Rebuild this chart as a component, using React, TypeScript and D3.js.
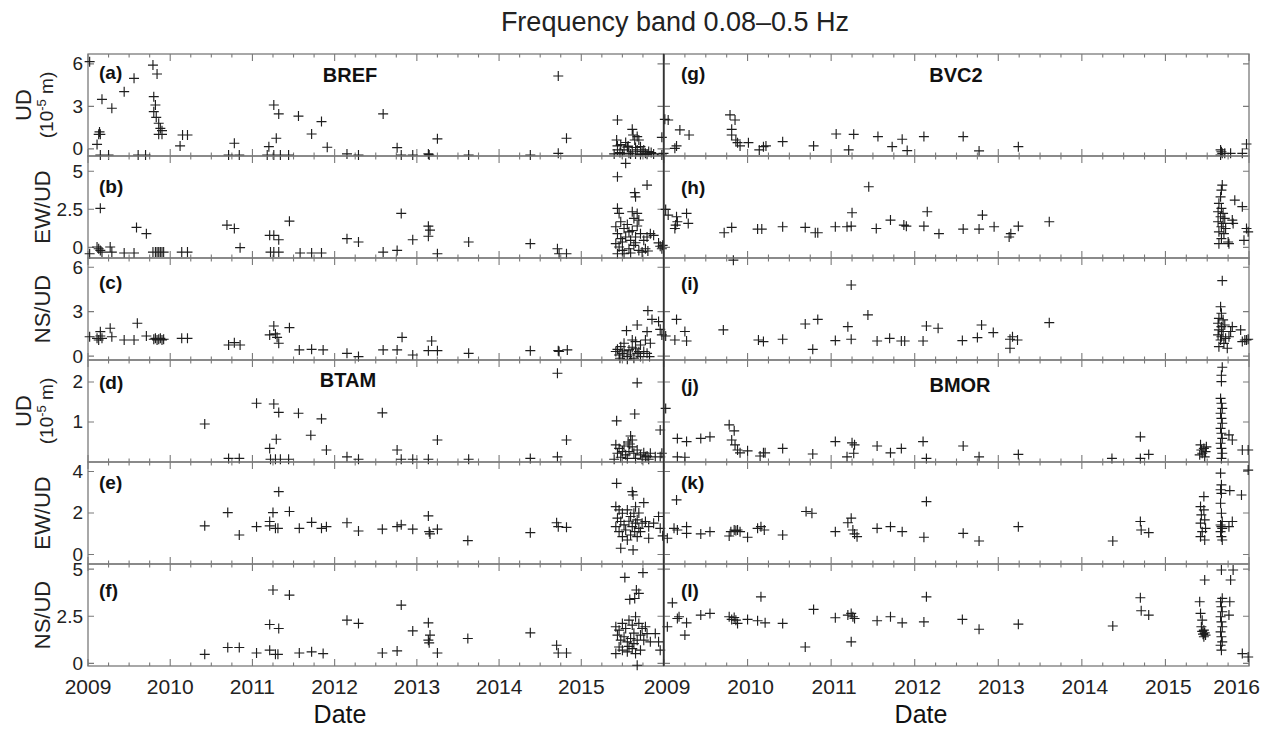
import React from 'react';
import * as d3 from 'd3';

type Pt = [number, number];

const title = 'Frequency band 0.08–0.5 Hz';
const xLabel = 'Date';
const yearTicksLeft = [2009, 2010, 2011, 2012, 2013, 2014, 2015];
const yearTicksRight = [2009, 2010, 2011, 2012, 2013, 2014, 2015, 2016];
const rowYLabels = ['UD', 'EW/UD', 'NS/UD', 'UD', 'EW/UD', 'NS/UD'];
const rowHasUnit = [true, false, false, true, false, false];
const yDomains: [number, number][] = [
  [-0.5, 6.7],
  [-0.7, 6.0],
  [-0.26, 6.62],
  [0, 2.55],
  [-0.46, 4.46],
  [-0.14, 5.27],
];
const yTickValues: number[][] = [
  [0, 3, 6],
  [0, 2.5, 5],
  [0, 3, 6],
  [1, 2],
  [0, 2, 4],
  [0, 2.5, 5],
];
const lettersLeft = ['(a)', '(b)', '(c)', '(d)', '(e)', '(f)'];
const lettersRight = ['(g)', '(h)', '(i)', '(j)', '(k)', '(l)'];
const letterOffsetLeft = [18, 30, 24, 22, 20, 26];
const letterOffsetRight = [19, 31, 25, 25, 20, 26];
const stationsLeft = ['BREF', 'BTAM'];
const stationsRight = ['BVC2', 'BMOR'];

// ---- data: [decimal year, value] ----
const panelA: Pt[] = [
  [2009.02, 6.16], [2009.11, 0.32], [2009.13, 1.03], [2009.15, 1.03], [2009.14, 1.2],
  [2009.17, 3.5], [2009.29, 2.87], [2009.15, -0.43], [2009.25, -0.43], [2009.44, 4.04],
  [2009.56, 4.98], [2009.61, -0.43], [2009.7, -0.43], [2009.79, 5.92], [2009.84, 5.29],
  [2009.8, 3.69], [2009.82, 3.1], [2009.8, 2.63], [2009.83, 2.23], [2009.86, 1.81],
  [2009.88, 1.45], [2009.9, 1.29], [2009.86, 1.03], [2009.9, 1.03], [2010.12, 0.21],
  [2010.15, 0.98], [2010.21, 0.98], [2010.71, -0.43], [2010.78, 0.4], [2010.84, -0.43],
  [2011.2, 0.16], [2011.26, 3.1], [2011.32, 2.47], [2011.29, 0.75], [2011.18, -0.43],
  [2011.26, -0.43], [2011.34, -0.43], [2011.44, -0.43], [2011.56, 2.32], [2011.72, 1.05],
  [2011.84, 1.93], [2011.91, 0.12], [2012.15, -0.35], [2012.29, -0.43], [2012.59, 2.47],
  [2012.76, 0.09], [2012.81, -0.43], [2012.95, -0.43], [2013.15, -0.43], [2013.14, -0.35],
  [2013.25, 0.71], [2013.63, -0.43], [2014.38, -0.43], [2014.72, 5.15], [2014.72, -0.31],
  [2014.82, 0.75],
  [2015.44, 2.04], [2015.43, 0.63], [2015.44, 0.21], [2015.44, -0.07], [2015.47, -0.26],
  [2015.52, -0.07], [2015.56, 0.12], [2015.58, -0.31], [2015.62, 1.38], [2015.63, 0.98],
  [2015.65, 0.63], [2015.68, 0.87], [2015.7, 0.63], [2015.72, 0.16], [2015.74, -0.19],
  [2015.76, -0.07], [2015.78, -0.31], [2015.82, -0.19], [2015.85, -0.26], [2015.4, -0.35],
  [2015.5, -0.35], [2015.6, -0.35], [2015.66, -0.35], [2015.68, -0.07], [2015.48, 0.3],
  [2015.54, 0.45], [2015.57, 0.2], [2015.66, 0.1], [2015.88, -0.35], [2015.8, -0.38],
  [2015.72, -0.4], [2015.62, -0.2], [2015.98, 0.82], [2016.0, -0.31], [2015.98, -0.43],
];

const panelB: Pt[] = [
  [2009.02, -0.42], [2009.11, 0.02], [2009.13, -0.09], [2009.15, -0.2], [2009.17, -0.31],
  [2009.15, 2.56], [2009.27, 0.02], [2009.29, -0.31], [2009.44, -0.37], [2009.56, -0.37],
  [2009.59, 1.31], [2009.71, 0.9], [2009.79, -0.31], [2009.82, -0.31], [2009.84, -0.31],
  [2009.86, -0.31], [2009.88, -0.31], [2009.9, -0.31], [2009.92, -0.31], [2010.14, -0.31],
  [2010.21, -0.31], [2010.69, 1.46], [2010.78, 1.24], [2010.85, -0.02], [2011.21, 0.79],
  [2011.26, 0.79], [2011.32, 0.5], [2011.22, -0.31], [2011.26, -0.31], [2011.32, -0.31],
  [2011.45, 1.72], [2011.58, -0.37], [2011.72, -0.37], [2011.84, -0.37], [2012.15, 0.57],
  [2012.29, 0.35], [2012.59, -0.31], [2012.76, -0.2], [2012.81, 2.23], [2012.95, 0.5],
  [2013.14, 1.39], [2013.16, 1.13], [2013.14, 0.73], [2013.25, -0.42], [2013.63, 0.35],
  [2014.38, 0.24], [2014.71, -0.09], [2014.73, -0.42], [2014.82, -0.42],
  [2015.44, 4.64], [2015.54, 5.52], [2015.8, 4.09], [2015.65, 3.59], [2015.66, 3.32],
  [2015.44, 2.56], [2015.46, 2.23], [2015.62, 2.34], [2015.68, 2.23], [2015.64, 1.9],
  [2015.7, 1.79], [2015.48, 1.68], [2015.42, 1.35], [2015.52, 1.24], [2015.58, 1.02],
  [2015.44, 0.9], [2015.48, 0.57], [2015.54, 0.68], [2015.6, 0.46], [2015.66, 0.68],
  [2015.72, 0.9], [2015.76, 0.46], [2015.8, 0.68], [2015.84, 0.9], [2015.88, 0.79],
  [2015.42, 0.24], [2015.46, 0.02], [2015.5, -0.2], [2015.58, -0.09], [2015.64, 0.13],
  [2015.7, -0.2], [2015.78, -0.09], [2015.44, -0.42], [2015.52, -0.42], [2015.6, -0.37],
  [2015.74, -0.31], [2015.81, -0.24], [2015.56, 1.5], [2015.62, 1.1], [2015.68, 1.4],
  [2015.5, 0.35], [2015.66, 0.3], [2015.94, 0.29], [2015.96, 0.07], [2015.98, -0.09],
  [2015.99, 0.13],
];

const panelC: Pt[] = [
  [2009.02, 1.31], [2009.11, 1.2], [2009.13, 1.09], [2009.15, 1.36], [2009.17, 1.2],
  [2009.15, 1.65], [2009.27, 1.88], [2009.29, 1.31], [2009.44, 1.09], [2009.56, 1.09],
  [2009.6, 2.22], [2009.71, 1.36], [2009.8, 1.14], [2009.82, 1.2], [2009.84, 1.09],
  [2009.86, 1.14], [2009.88, 1.2], [2009.9, 1.09], [2009.92, 1.14], [2010.14, 1.2],
  [2010.21, 1.2], [2010.71, 0.75], [2010.78, 0.91], [2010.85, 0.75], [2011.21, 1.43],
  [2011.26, 2.03], [2011.3, 1.27], [2011.32, 0.87], [2011.28, 1.5], [2011.45, 1.92],
  [2011.57, 0.42], [2011.72, 0.46], [2011.86, 0.42], [2012.15, 0.19], [2012.29, -0.03],
  [2012.59, 0.42], [2012.76, 0.42], [2012.82, 1.27], [2012.95, 0.08], [2013.14, 0.37],
  [2013.18, 1.02], [2013.25, 0.37], [2013.63, 0.19], [2014.38, 0.37], [2014.72, 0.37],
  [2014.73, 0.31], [2014.83, 0.42],
  [2015.81, 3.07], [2015.86, 2.48], [2015.94, 2.33], [2015.96, 1.81], [2015.98, 1.43],
  [2015.68, 2.1], [2015.55, 1.72], [2015.8, 1.65], [2015.84, 0.87], [2015.78, 1.09],
  [2015.72, 0.75], [2015.66, 0.98], [2015.62, 1.09], [2015.52, 0.87], [2015.48, 0.64],
  [2015.44, 0.46], [2015.42, 0.31], [2015.46, 0.08], [2015.5, 0.19], [2015.56, -0.03],
  [2015.58, 0.42], [2015.6, 0.08], [2015.64, -0.14], [2015.68, 0.19], [2015.72, -0.03],
  [2015.76, 0.31], [2015.8, 0.19], [2015.83, -0.03], [2015.47, -0.14], [2015.56, -0.21],
  [2015.66, 0.5], [2015.52, 0.35], [2015.62, 0.6], [2015.7, 0.3],
];

const panelD: Pt[] = [
  [2010.42, 0.95], [2010.71, 0.09], [2010.84, 0.09], [2011.05, 1.47], [2011.21, 0.34],
  [2011.26, 1.45], [2011.32, 1.24], [2011.29, 0.57], [2011.22, 0.07], [2011.28, 0.07],
  [2011.34, 0.07], [2011.44, 0.07], [2011.56, 1.22], [2011.71, 0.67], [2011.84, 1.08],
  [2011.9, 0.3], [2012.15, 0.13], [2012.29, 0.07], [2012.58, 1.23], [2012.76, 0.3],
  [2012.81, 0.07], [2012.95, 0.07], [2013.14, 0.07], [2013.25, 0.55], [2013.63, 0.07],
  [2014.38, 0.09], [2014.71, 2.22], [2014.71, 0.13], [2014.82, 0.55],
  [2015.68, 1.98], [2015.43, 1.03], [2015.65, 1.2], [2015.6, 0.65], [2015.62, 0.55],
  [2015.59, 0.45], [2015.62, 0.38], [2015.42, 0.43], [2015.46, 0.34], [2015.44, 0.22],
  [2015.5, 0.26], [2015.54, 0.18], [2015.58, 0.26], [2015.64, 0.22], [2015.68, 0.3],
  [2015.72, 0.18], [2015.76, 0.23], [2015.8, 0.15], [2015.84, 0.22], [2015.78, 0.13],
  [2015.48, 0.12], [2015.56, 0.09], [2015.66, 0.09], [2015.74, 0.07], [2015.82, 0.07],
  [2015.4, 0.07], [2015.9, 0.13], [2015.96, 0.13], [2015.98, 0.22], [2015.96, 0.8],
  [2015.52, 0.4], [2015.57, 0.5],
];

const panelE: Pt[] = [
  [2010.42, 1.38], [2010.7, 2.02], [2010.84, 0.94], [2011.05, 1.34], [2011.21, 1.59],
  [2011.21, 1.38], [2011.25, 2.02], [2011.28, 1.26], [2011.31, 1.26], [2011.32, 3.03],
  [2011.45, 2.07], [2011.57, 1.26], [2011.72, 1.55], [2011.84, 1.26], [2011.9, 1.34],
  [2012.15, 1.53], [2012.29, 1.13], [2012.58, 1.22], [2012.76, 1.34], [2012.81, 1.43],
  [2012.95, 1.22], [2013.14, 1.86], [2013.15, 1.1], [2013.16, 0.99], [2013.25, 1.22],
  [2013.62, 0.67], [2014.38, 1.05], [2014.7, 1.53], [2014.72, 1.34], [2014.82, 1.31],
  [2015.43, 3.43], [2015.62, 3.03], [2015.63, 2.87], [2015.76, 2.5], [2015.42, 2.31],
  [2015.46, 2.15], [2015.5, 1.99], [2015.44, 1.75], [2015.48, 1.59], [2015.52, 1.43],
  [2015.42, 1.34], [2015.46, 1.1], [2015.5, 0.86], [2015.56, 2.15], [2015.6, 1.83],
  [2015.64, 1.99], [2015.68, 1.67], [2015.66, 1.51], [2015.62, 1.34], [2015.7, 1.26],
  [2015.74, 1.51], [2015.78, 1.59], [2015.65, 1.1], [2015.6, 0.94], [2015.68, 0.86],
  [2015.82, 0.78], [2015.48, 0.3], [2015.63, 0.22], [2015.56, 0.7], [2015.72, 1.1],
  [2015.82, 1.34], [2015.54, 1.18], [2015.88, 1.51], [2015.58, 1.6], [2015.7, 2.0],
  [2015.66, 2.3], [2015.94, 1.83], [2015.96, 1.26], [2015.99, 0.9],
];

const panelF: Pt[] = [
  [2010.42, 0.48], [2010.7, 0.84], [2010.84, 0.84], [2011.05, 0.55], [2011.21, 0.7],
  [2011.25, 3.89], [2011.21, 2.06], [2011.32, 1.85], [2011.28, 0.48], [2011.31, 0.48],
  [2011.45, 3.62], [2011.57, 0.55], [2011.72, 0.61], [2011.86, 0.52], [2012.15, 2.29],
  [2012.29, 2.12], [2012.58, 0.55], [2012.76, 0.66], [2012.81, 3.09], [2012.95, 1.72],
  [2013.14, 2.15], [2013.16, 1.5], [2013.14, 1.23], [2013.15, 1.09], [2013.25, 0.55],
  [2013.62, 1.32], [2014.38, 1.62], [2014.7, 0.96], [2014.72, 0.55], [2014.82, 0.55],
  [2015.53, 4.56], [2015.75, 4.81], [2015.67, 3.89], [2015.7, 3.71], [2015.59, 3.39],
  [2015.65, 3.44], [2015.42, 1.94], [2015.46, 1.76], [2015.5, 2.12], [2015.54, 1.85],
  [2015.58, 2.29], [2015.62, 2.03], [2015.66, 2.47], [2015.7, 2.12], [2015.74, 1.85],
  [2015.78, 1.94], [2015.44, 1.5], [2015.48, 1.23], [2015.52, 1.41], [2015.56, 1.14],
  [2015.6, 1.32], [2015.64, 1.05], [2015.68, 1.23], [2015.72, 1.5], [2015.76, 1.23],
  [2015.8, 1.58], [2015.42, 0.52], [2015.46, 0.87], [2015.5, 0.7], [2015.56, 0.61],
  [2015.62, 0.78], [2015.66, 0.52], [2015.72, 0.7], [2015.84, 1.14], [2015.68, -0.1],
  [2015.94, 1.14], [2015.96, 0.7], [2015.9, 1.58], [2015.58, 0.9], [2015.64, 1.6],
];

const panelG: Pt[] = [
  [2009.01, 2.09], [2009.05, 2.04], [2009.15, 0.21], [2009.13, 0.04], [2009.19, 1.34],
  [2009.3, 0.98], [2009.79, 2.4], [2009.85, 2.04], [2009.81, 1.38], [2009.81, 0.98],
  [2009.86, 0.63], [2009.88, 0.44], [2009.91, 0.21], [2010.01, 0.44], [2010.14, -0.07],
  [2010.19, 0.16], [2010.22, 0.21], [2010.42, 0.51], [2010.79, 0.21], [2011.06, 1.05],
  [2011.21, -0.07], [2011.27, 1.03], [2011.56, 0.87], [2011.73, 0.16], [2011.85, 0.68],
  [2011.91, -0.12], [2012.11, 0.87], [2012.58, 0.87], [2012.77, -0.14], [2013.24, 0.16],
  [2015.66, -0.07], [2015.67, -0.2], [2015.68, -0.31], [2015.66, -0.43], [2015.71, -0.31],
  [2015.78, -0.31], [2015.92, -0.31], [2015.97, 0.35],
];

const panelH: Pt[] = [
  [2009.02, 2.49], [2009.05, 2.12], [2009.13, 1.24], [2009.14, 1.46], [2009.16, 1.68],
  [2009.15, 2.01], [2009.27, 2.23], [2009.29, 1.57], [2009.72, 0.96], [2009.81, 1.31],
  [2009.83, -0.84], [2010.12, 1.2], [2010.17, 1.2], [2010.42, 1.35], [2010.69, 1.31],
  [2010.81, 0.96], [2010.84, 0.96], [2011.05, 1.35], [2011.19, 1.35], [2011.25, 2.27],
  [2011.24, 1.39], [2011.45, 3.98], [2011.54, 1.24], [2011.71, 1.79], [2011.87, 1.46],
  [2011.9, 1.39], [2012.11, 1.39], [2012.15, 2.34], [2012.29, 0.9], [2012.58, 1.2],
  [2012.77, 1.2], [2012.81, 2.12], [2012.95, 1.35], [2013.13, 0.68], [2013.15, 0.9],
  [2013.24, 1.39], [2013.61, 1.68],
  [2015.68, 4.09], [2015.67, 3.76], [2015.66, 3.32], [2015.64, 2.89], [2015.67, 2.56],
  [2015.63, 2.34], [2015.69, 2.23], [2015.66, 2.01], [2015.71, 1.9], [2015.63, 1.68],
  [2015.69, 1.57], [2015.67, 1.35], [2015.72, 1.24], [2015.64, 1.02], [2015.7, 0.9],
  [2015.67, 0.57], [2015.64, 0.24], [2015.76, 0.24], [2015.75, 0.35], [2015.8, 1.79],
  [2015.81, 1.57], [2015.83, 3.1], [2015.92, 2.67], [2015.94, 0.46], [2015.97, 1.24],
  [2015.99, 1.02],
];

const panelI: Pt[] = [
  [2009.02, 1.36], [2009.15, 2.48], [2009.13, 1.09], [2009.25, 1.66], [2009.27, 1.02],
  [2009.71, 1.77], [2010.13, 1.09], [2010.19, 0.98], [2010.42, 1.14], [2010.69, 2.17],
  [2010.78, 0.46], [2010.84, 2.48], [2011.05, 1.05], [2011.24, 4.8], [2011.2, 1.99],
  [2011.24, 1.14], [2011.44, 2.78], [2011.55, 1.02], [2011.7, 1.2], [2011.84, 1.02],
  [2011.88, 1.02], [2012.1, 1.02], [2012.14, 2.03], [2012.28, 1.88], [2012.57, 1.05],
  [2012.75, 1.25], [2012.8, 2.1], [2012.94, 1.59], [2013.14, 1.14], [2013.14, 0.53],
  [2013.17, 1.31], [2013.23, 1.09], [2013.61, 2.26],
  [2015.68, 5.09], [2015.66, 3.33], [2015.67, 2.89], [2015.64, 2.55], [2015.69, 2.45],
  [2015.63, 2.22], [2015.67, 1.99], [2015.71, 2.1], [2015.64, 1.77], [2015.69, 1.66],
  [2015.63, 1.43], [2015.67, 1.31], [2015.72, 1.2], [2015.66, 1.09], [2015.7, 0.86],
  [2015.64, 0.64], [2015.74, 0.53], [2015.76, 1.31], [2015.8, 1.99], [2015.78, 1.66],
  [2015.9, 1.77], [2015.92, 0.98], [2015.95, 1.09], [2015.97, 1.09], [2015.99, 1.14],
];

const panelJ: Pt[] = [
  [2009.02, 1.34], [2009.16, 0.59], [2009.27, 0.51], [2009.16, 0.13], [2009.25, 0.12],
  [2009.44, 0.59], [2009.55, 0.63], [2009.78, 0.93], [2009.84, 0.78], [2009.81, 0.55],
  [2009.85, 0.43], [2009.88, 0.3], [2009.91, 0.23], [2010.0, 0.28], [2010.15, 0.15],
  [2010.19, 0.23], [2010.21, 0.23], [2010.42, 0.34], [2010.78, 0.2], [2011.05, 0.51],
  [2011.19, 0.13], [2011.25, 0.48], [2011.28, 0.43], [2011.27, 0.22], [2011.55, 0.4],
  [2011.71, 0.23], [2011.84, 0.34], [2012.1, 0.51], [2012.14, 0.09], [2012.58, 0.4],
  [2012.77, 0.13], [2013.24, 0.19], [2014.36, 0.09], [2014.7, 0.63], [2014.7, 0.09],
  [2014.8, 0.19],
  [2015.42, 0.43], [2015.46, 0.34], [2015.48, 0.26], [2015.44, 0.22], [2015.41, 0.18],
  [2015.47, 0.13], [2015.49, 0.38], [2015.43, 0.3],
  [2015.68, 2.37], [2015.67, 2.17], [2015.67, 2.01], [2015.66, 1.59], [2015.67, 1.47],
  [2015.68, 1.34], [2015.66, 1.22], [2015.67, 1.09], [2015.68, 0.97], [2015.66, 0.84],
  [2015.67, 0.72], [2015.68, 0.59], [2015.66, 0.47], [2015.67, 0.34], [2015.68, 0.22],
  [2015.67, 0.09], [2015.76, 0.68], [2015.8, 0.55], [2015.92, 0.3], [2015.99, 0.3],
];

const panelK: Pt[] = [
  [2009.04, 0.78], [2009.15, 2.63], [2009.12, 1.26], [2009.16, 1.18], [2009.27, 1.34],
  [2009.27, 1.02], [2009.44, 0.99], [2009.55, 1.1], [2009.78, 0.89], [2009.8, 1.1],
  [2009.84, 1.18], [2009.86, 1.15], [2009.88, 1.18], [2009.91, 1.1], [2010.0, 0.83],
  [2010.12, 1.26], [2010.16, 1.34], [2010.2, 1.18], [2010.42, 0.94], [2010.7, 2.07],
  [2010.77, 1.99], [2011.05, 1.1], [2011.2, 1.53], [2011.24, 1.75], [2011.26, 1.18],
  [2011.28, 0.99], [2011.31, 0.86], [2011.55, 1.26], [2011.71, 1.34], [2011.85, 1.1],
  [2012.11, 0.83], [2012.14, 2.55], [2012.58, 1.02], [2012.77, 0.65], [2013.24, 1.34],
  [2014.37, 0.65], [2014.7, 1.59], [2014.71, 1.18], [2014.8, 1.05],
  [2015.42, 2.31], [2015.46, 2.15], [2015.43, 1.91], [2015.47, 1.67], [2015.42, 1.51],
  [2015.48, 1.26], [2015.44, 1.1], [2015.42, 0.86], [2015.47, 0.7], [2015.46, 2.79],
  [2015.66, 3.92], [2015.67, 3.36], [2015.66, 3.12], [2015.67, 2.95], [2015.66, 2.47],
  [2015.67, 1.99], [2015.68, 1.59], [2015.66, 1.42], [2015.67, 1.34], [2015.68, 1.26],
  [2015.66, 1.1], [2015.67, 0.86], [2015.68, 0.7], [2015.77, 3.08], [2015.8, 1.59],
  [2015.76, 1.34], [2015.91, 2.87], [2015.99, 4.07],
];

const panelL: Pt[] = [
  [2009.04, 1.94], [2009.1, 3.21], [2009.16, 2.38], [2009.18, 2.47], [2009.27, 2.15],
  [2009.25, 1.5], [2009.44, 2.56], [2009.55, 2.65], [2009.78, 2.47], [2009.81, 2.33],
  [2009.84, 2.43], [2009.86, 2.29], [2009.88, 2.12], [2010.0, 2.33], [2010.16, 3.53],
  [2010.12, 2.26], [2010.21, 2.15], [2010.42, 2.12], [2010.69, 0.87], [2010.79, 2.86],
  [2011.05, 2.42], [2011.2, 2.56], [2011.24, 2.65], [2011.26, 2.47], [2011.28, 2.38],
  [2011.24, 1.14], [2011.55, 2.26], [2011.71, 2.47], [2011.85, 2.15], [2012.11, 2.2],
  [2012.14, 3.53], [2012.57, 2.33], [2012.77, 1.81], [2013.24, 2.08], [2014.37, 1.98],
  [2014.7, 3.48], [2014.71, 2.79], [2014.8, 2.56],
  [2015.41, 3.27], [2015.42, 2.65], [2015.44, 2.29], [2015.43, 1.94], [2015.46, 1.76],
  [2015.47, 1.62], [2015.48, 1.5], [2015.46, 1.41], [2015.47, 4.42], [2015.45, 1.55],
  [2015.44, 1.7],
  [2015.67, 4.95], [2015.68, 3.45], [2015.66, 3.27], [2015.67, 3.0], [2015.68, 2.74],
  [2015.66, 2.47], [2015.67, 2.2], [2015.68, 1.94], [2015.66, 1.67], [2015.67, 1.41],
  [2015.68, 1.14], [2015.66, 0.96], [2015.67, 0.7], [2015.78, 4.42], [2015.81, 4.95],
  [2015.77, 3.27], [2015.76, 2.56], [2015.92, 0.52], [2015.99, 0.34],
];

const leftPanels = [panelA, panelB, panelC, panelD, panelE, panelF];
const rightPanels = [panelG, panelH, panelI, panelJ, panelK, panelL];

// ---- layout ----
const W = 1271;
const H = 730;
const TOP = 54;
const ROW_H = 102;
const COLS = [
  { x0: 88, x1: 663.5 },
  { x0: 664, x1: 1249 },
];
const FONT = "'Liberation Sans', Arial, Helvetica, sans-serif";
const FRAME = '#7a7a7a';
const INK = '#1e1e1e';

function quarterTicks(): { t: number; major: boolean }[] {
  const out: { t: number; major: boolean }[] = [];
  for (let i = 0; i <= 28; i++) out.push({ t: 2009 + i / 4, major: i % 4 === 0 });
  return out;
}

function Panel({ col, row, data }: { col: number; row: number; data: Pt[] }) {
  const { x0, x1 } = COLS[col];
  const yTop = TOP + row * ROW_H;
  const yBot = yTop + ROW_H;
  const x = d3.scaleLinear().domain([2009, 2016]).range([x0, x1]);
  const y = d3.scaleLinear().domain(yDomains[row]).range([yBot, yTop]);
  const qt = quarterTicks();
  const s = 5;
  const markers = data
    .map(([t, v]) => {
      const px = x(t);
      const py = y(v);
      return `M${px - s},${py}H${px + s}M${px},${py - s}V${py + s}`;
    })
    .join('');
  const tickPath =
    qt
      .map(({ t, major }) => {
        const px = x(t);
        const len = major ? 7 : 3.5;
        return `M${px},${yBot}V${yBot - len}M${px},${yTop}V${yTop + len}`;
      })
      .join('') +
    yTickValues[row]
      .map((v) => {
        const py = y(v);
        return `M${x0},${py}H${x0 + 6}M${x1},${py}H${x1 - 6}`;
      })
      .join('');
  return (
    <g>
      <path d={tickPath} stroke={FRAME} strokeWidth={1.1} fill="none" />
      <rect x={x0} y={yTop} width={x1 - x0} height={ROW_H} fill="none" stroke={FRAME} strokeWidth={1.3} />
      <path d={markers} stroke={INK} strokeWidth={1.15} fill="none" />
    </g>
  );
}

export default function App() {
  const xl = d3.scaleLinear().domain([2009, 2016]).range([COLS[0].x0, COLS[0].x1]);
  const xr = d3.scaleLinear().domain([2009, 2016]).range([COLS[1].x0, COLS[1].x1]);
  const bottom = TOP + 6 * ROW_H;
  return (
    <svg
      width={W}
      height={H}
      viewBox={`0 0 ${W} ${H}`}
      style={{ position: 'absolute', left: 0, top: 0, background: '#fff' }}
      fontFamily={FONT}
    >
      <rect x={0} y={0} width={W} height={H} fill="#fff" />
      <text x={675} y={31} textAnchor="middle" fontSize={27} fill="#222">
        {title}
      </text>

      {leftPanels.map((d, r) => (
        <Panel key={'l' + r} col={0} row={r} data={d} />
      ))}
      {rightPanels.map((d, r) => (
        <Panel key={'r' + r} col={1} row={r} data={d} />
      ))}
      <line x1={663.7} x2={663.7} y1={TOP} y2={bottom} stroke="#333" strokeWidth={1.6} />

      {/* y tick labels */}
      {yTickValues.map((vals, r) => {
        const y = d3
          .scaleLinear()
          .domain(yDomains[r])
          .range([TOP + (r + 1) * ROW_H, TOP + r * ROW_H]);
        return vals.map((v) => (
          <text key={`yt${r}-${v}`} x={83} y={y(v)} dy="0.34em" textAnchor="end" fontSize={19} fill="#222">
            {String(v)}
          </text>
        ));
      })}

      {/* y axis titles */}
      {rowYLabels.map((lab, r) => {
        const cy = TOP + r * ROW_H + ROW_H / 2;
        if (rowHasUnit[r]) {
          return (
            <g key={'yl' + r}>
              <text transform={`translate(23,${cy}) rotate(-90)`} textAnchor="middle" dy="0.35em" fontSize={22} fill="#222">
                {lab}
              </text>
              <text transform={`translate(46,${cy}) rotate(-90)`} textAnchor="middle" dy="0.35em" fontSize={19} fill="#222">
                <tspan>(10</tspan>
                <tspan dy={-7} fontSize={13}>
                  -5
                </tspan>
                <tspan dy={7}> m)</tspan>
              </text>
            </g>
          );
        }
        return (
          <text key={'yl' + r} transform={`translate(42,${cy}) rotate(-90)`} textAnchor="middle" dy="0.35em" fontSize={22} fill="#222">
            {lab}
          </text>
        );
      })}

      {/* panel letters */}
      {lettersLeft.map((l, r) => (
        <text key={l} x={99} y={TOP + r * ROW_H + letterOffsetLeft[r]} dy="0.35em" fontSize={19} fontWeight="bold" fill="#111">
          {l}
        </text>
      ))}
      {lettersRight.map((l, r) => (
        <text key={l} x={681} y={TOP + r * ROW_H + letterOffsetRight[r]} dy="0.35em" fontSize={19} fontWeight="bold" fill="#111">
          {l}
        </text>
      ))}

      {/* station names */}
      <text x={350} y={75} dy="0.35em" textAnchor="middle" fontSize={20} fontWeight="bold" fill="#111">
        {stationsLeft[0]}
      </text>
      <text x={348} y={380} dy="0.35em" textAnchor="middle" fontSize={20} fontWeight="bold" fill="#111">
        {stationsLeft[1]}
      </text>
      <text x={956} y={75} dy="0.35em" textAnchor="middle" fontSize={20} fontWeight="bold" fill="#111">
        {stationsRight[0]}
      </text>
      <text x={960} y={385} dy="0.35em" textAnchor="middle" fontSize={20} fontWeight="bold" fill="#111">
        {stationsRight[1]}
      </text>

      {/* x tick labels */}
      {yearTicksLeft.map((t) => (
        <text key={'xl' + t} x={xl(t)} y={694} textAnchor="middle" fontSize={21} fill="#222">
          {t}
        </text>
      ))}
      {yearTicksRight.map((t, i) => {
        const last = i === yearTicksRight.length - 1;
        return (
          <text
            key={'xr' + t}
            x={last ? xr(t) + 11 : xr(t) + 3}
            y={694}
            textAnchor={last ? 'end' : 'middle'}
            fontSize={21}
            fill="#222"
          >
            {t}
          </text>
        );
      })}
      <text x={340} y={723} textAnchor="middle" fontSize={25} fill="#111">
        {xLabel}
      </text>
      <text x={921} y={723} textAnchor="middle" fontSize={25} fill="#111">
        {xLabel}
      </text>
    </svg>
  );
}
